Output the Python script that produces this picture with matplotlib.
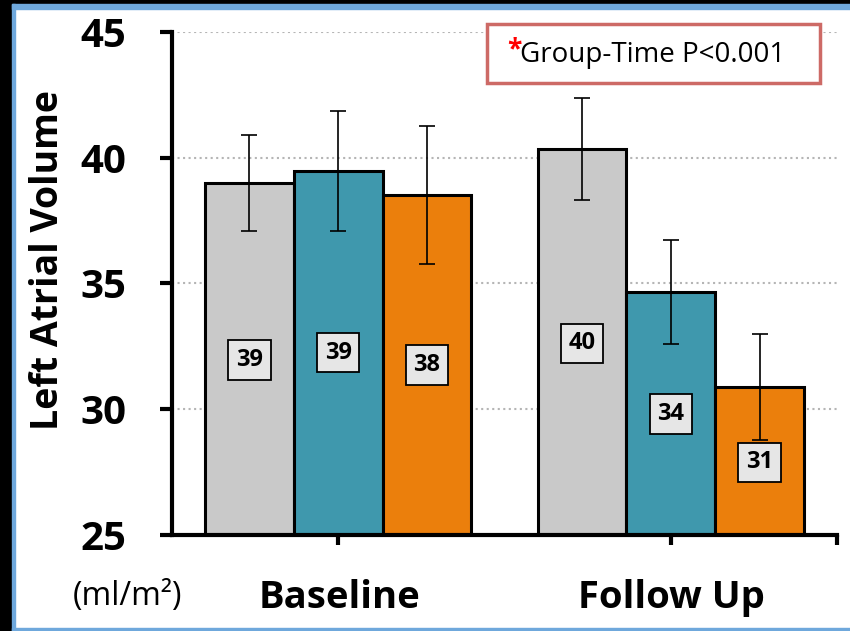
import matplotlib.pyplot as plt
from matplotlib.patches import Rectangle
import numpy as np

# data
groups = ['Baseline', 'Follow Up']
series_colors = ['#c9c9c9', '#3f98ad', '#eb7f0c']
values = [[39.0, 40.35],      # control
          [39.47, 34.66],     # teal group
          [38.52, 30.88]]     # orange group
errors = [[1.92, 2.03],
          [2.37, 2.07],
          [2.73, 2.10]]
labels = [['39', '40'],
          ['39', '34'],
          ['38', '31']]
label_y = [[31.96, 32.63],
           [32.24, 29.81],
           [31.76, 27.90]]

plt.rcParams['font.family'] = ['Open Sans', 'DejaVu Sans']

fig = plt.figure(figsize=(8.5, 6.31), dpi=100)

# frame around the slide
W, H = 850, 631
fig.patches.append(Rectangle((0, 0), 12 / W, 1, transform=fig.transFigure, color='black', zorder=0))
fig.patches.append(Rectangle((0, 1 - 4 / H), 1, 4 / H, transform=fig.transFigure, color='black', zorder=0))
fig.patches.append(Rectangle((12 / W, 1 - 9 / H), 1, 5 / H, transform=fig.transFigure, color='#6fa8dc', zorder=0))
fig.patches.append(Rectangle((12 / W, 0), 3 / W, 1 - 4 / H, transform=fig.transFigure, color='#6fa8dc', zorder=0))
fig.patches.append(Rectangle((12 / W, 0), 1, 3 / H, transform=fig.transFigure, color='#6fa8dc', zorder=0))

ax = fig.add_axes([172 / W, 1 - 535 / H, (837 - 172) / W, (535 - 32) / H])

x = np.arange(len(groups))
width = 0.267
for i in range(3):
    xs = x + (i - 1) * width
    ax.bar(xs, values[i], width, bottom=0, color=series_colors[i], edgecolor='black',
           linewidth=2.2, zorder=2)
    ax.errorbar(xs, values[i], yerr=errors[i], fmt='none', ecolor='black',
                elinewidth=1.2, capsize=6, capthick=1.2, zorder=3)
    for j in range(len(groups)):
        ax.text(xs[j], label_y[i][j], labels[i][j], ha='center', va='center',
                fontsize=17, fontweight='bold', zorder=4,
                bbox=dict(boxstyle='square,pad=0.32', fc='#e6e6e6', ec='black', lw=1.3))

ax.set_ylim(25, 45)
ax.set_xlim(-0.5, 1.5)
ax.set_yticks([25, 30, 35, 40, 45])
ax.set_xticks([0, 1, 1.5])
ax.set_xticklabels(['', '', ''])
ax.yaxis.grid(True, linestyle=':', color='#b5b5b5', linewidth=1.5, zorder=0)
ax.set_axisbelow(True)

for s in ['top', 'right']:
    ax.spines[s].set_visible(False)
ax.spines['left'].set_linewidth(3)
ax.spines['bottom'].set_linewidth(3)
ax.tick_params(axis='y', length=9, width=3, pad=24, labelsize=29)
ax.tick_params(axis='x', length=7, width=3)
for t in ax.get_yticklabels():
    t.set_fontweight('bold')

fig.text(48 / W, 1 - 260 / H, 'Left Atrial Volume', rotation=90, ha='center', va='center',
         fontsize=27, fontweight='bold')
fig.text(339 / W, 1 - 598 / H, 'Baseline', ha='center', va='center', fontsize=27.5, fontweight='bold')
fig.text(671 / W, 1 - 598 / H, 'Follow Up', ha='center', va='center', fontsize=27.5, fontweight='bold')
fig.text(128 / W, 1 - 597 / H, '(ml/m²)', ha='center', va='center', fontsize=23)

# annotation box
fig.patches.append(Rectangle((487 / W, 1 - 83 / H), (820 - 487) / W, (83 - 24) / H,
                             transform=fig.transFigure, fc='white', ec='#cd6a66', lw=2.5, zorder=5))
fig.text(507 / W, 1 - 50 / H, '*', color='red', fontsize=19, fontweight='bold',
         ha='left', va='center', zorder=6)
fig.text(520 / W, 1 - 55 / H, 'Group-Time P<0.001', fontsize=20, ha='left', va='center', zorder=6)

fig.savefig('out.png', dpi=100)
